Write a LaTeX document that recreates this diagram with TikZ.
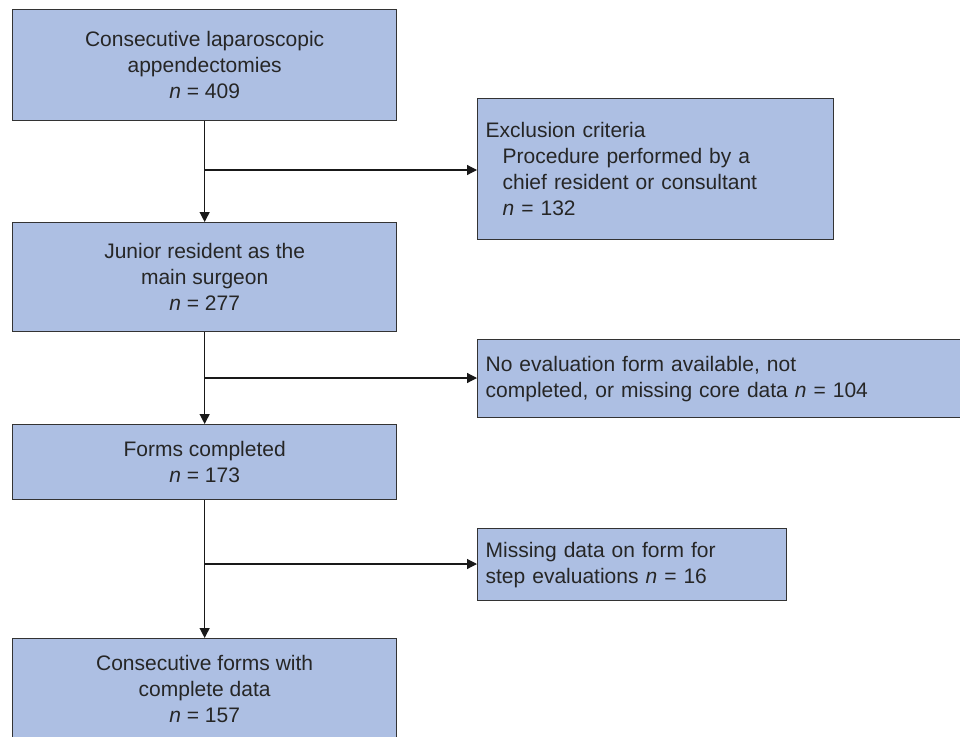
\documentclass[tikz,border=0pt]{standalone}
\usepackage{fontspec}
\setmainfont{Liberation Sans}
\usetikzlibrary{arrows.meta}
\definecolor{boxblue}{HTML}{ADBFE3}
\definecolor{edgegray}{HTML}{333333}

\begin{document}
\begin{tikzpicture}[x=1pt, y=-1pt,
	stage/.style={draw=edgegray, line width=1.3pt, fill=boxblue, anchor=north west,
		align=center, inner sep=0pt, text=black!85, font=\fontsize{21}{26}\selectfont},
	excl/.style={stage, align=left, inner xsep=8pt},
	flow/.style={line width=1.2pt, draw=black!90, -{Triangle[length=10pt,width=10pt]}}]
	
	\useasboundingbox (0,0) rectangle (960,736);
	
	% main stages
	\node [stage, minimum width=384, minimum height=111] (allcases) at (12,9)
		{Consecutive laparoscopic\\appendectomies\\\textit{n} = 409};
	\node [stage, minimum width=384, minimum height=109] (junior) at (12,222)
		{Junior resident as the\\main surgeon\\\textit{n} = 277};
	\node [stage, minimum width=384, minimum height=75] (forms) at (12,424)
		{Forms completed\\\textit{n} = 173};
	\node [stage, minimum width=384, minimum height=100] (final) at (12,638)
		{Consecutive forms with\\complete data\\\textit{n} = 157};
	
	% exclusions
	\node [excl, text width=340, minimum height=141] (excl1) at (477,98)
		{Exclusion criteria\\\hspace*{17pt}Procedure performed by a\\\hspace*{17pt}chief resident or consultant\\\hspace*{17pt}\textit{n} = 132};
	\node [excl, text width=474, minimum height=78] (excl2) at (477,339)
		{No evaluation form available, not\\completed, or missing core data \textit{n} = 104};
	\node [excl, text width=293, minimum height=72] (excl3) at (477,528)
		{Missing data on form for\\step evaluations \textit{n} = 16};
	
	\coordinate (split1) at (204,170);
	\coordinate (split2) at (204,378);
	\coordinate (split3) at (204,564);
	
	\draw [flow] (allcases.south) -- (junior.north);
	\draw [flow] (junior.south) -- (forms.north);
	\draw [flow] (forms.south) -- (final.north);
	
	\draw [flow] (split1) -- (split1 -| excl1.west);
	\draw [flow] (split2) -- (split2 -| excl2.west);
	\draw [flow] (split3) -- (split3 -| excl3.west);
	
\end{tikzpicture}
\end{document}
